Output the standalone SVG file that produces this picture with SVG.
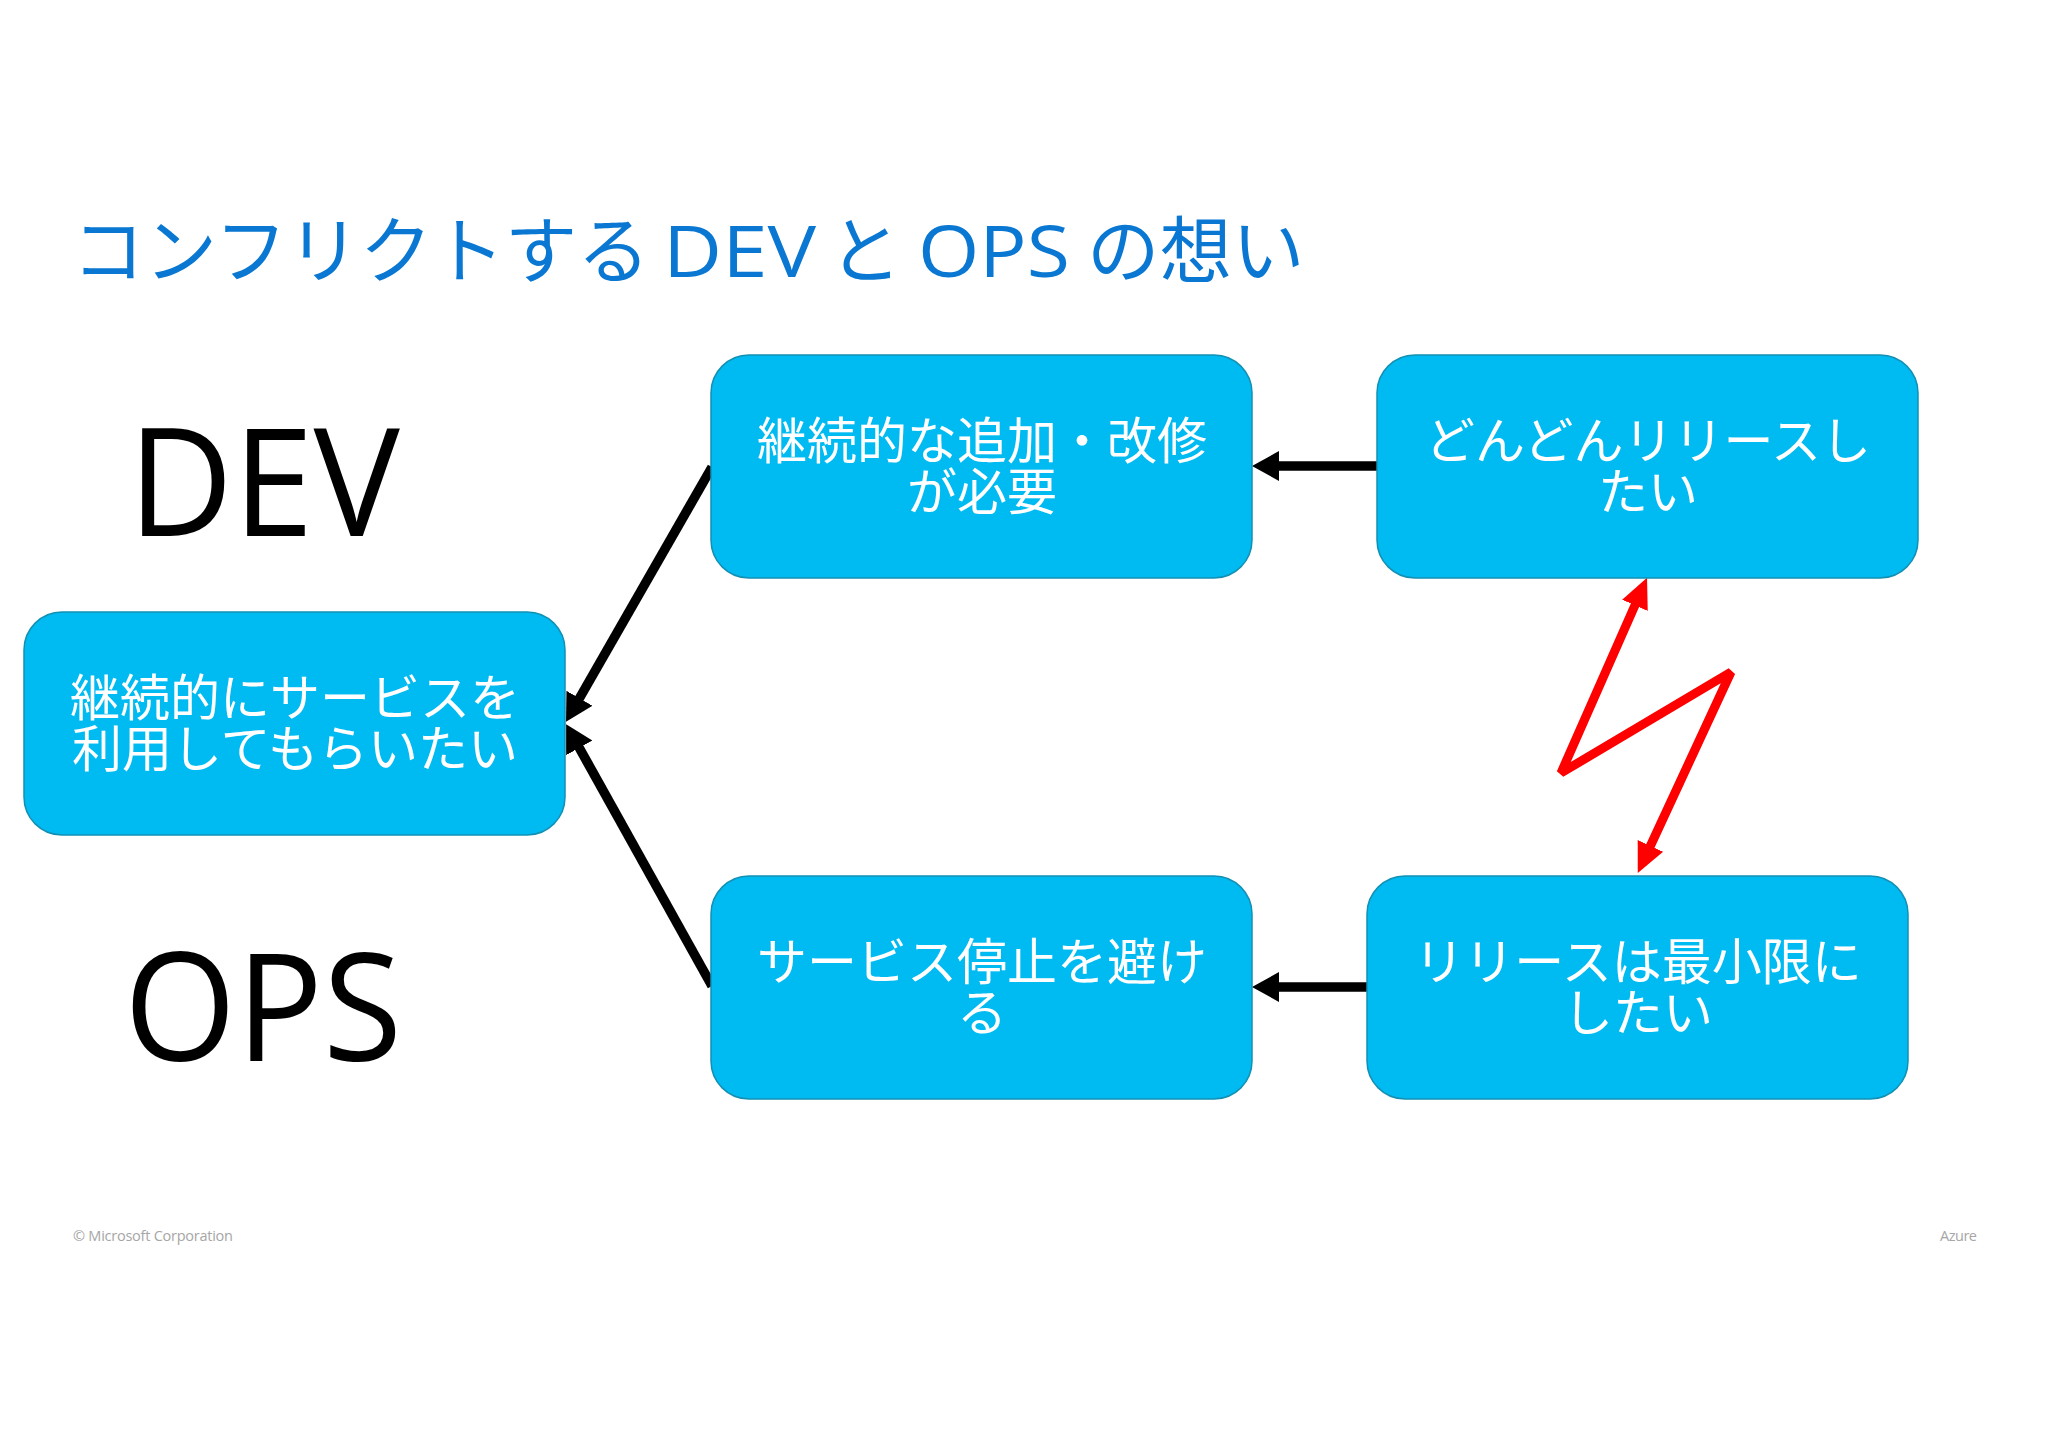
<svg xmlns="http://www.w3.org/2000/svg" width="2048" height="1448" viewBox="0 0 2048 1448">
<style>
text{font-family:"Open Sans","Noto Sans CJK JP",sans-serif}
.jp{font-family:"Noto Sans CJK JP",sans-serif;font-size:50px;fill:#fff;text-anchor:middle;font-weight:400}
.box{fill:#00BAF2;stroke:#1290B4;stroke-width:1.5}
.big{font-size:150px;fill:#000}
.foot{font-size:14.5px;fill:#a6a6a6}
.k{fill:none;stroke:#000;stroke-width:9.5;marker-end:url(#ka)}
.r{fill:none;stroke:#f00;stroke-width:9;stroke-linejoin:bevel;marker-start:url(#ra);marker-end:url(#ra)}
.lat{font-size:72px}
</style>
<defs>
<marker id="ka" markerUnits="userSpaceOnUse" markerWidth="28" markerHeight="32" refX="17" refY="16" orient="auto"><path d="M0,1L27,16L0,31z" fill="#000"/></marker>
<marker id="ra" markerUnits="userSpaceOnUse" markerWidth="30" markerHeight="30" refX="20" refY="15" orient="auto-start-reverse"><path d="M0,1L30,15L0,29z" fill="#f00"/></marker>
</defs>
<rect width="2048" height="1448" fill="#fff"/>
<text id="title" y="277" font-size="72.5" fill="#0A78D2"><tspan x="72">コンフリクトする</tspan><tspan class="lat" x="663" textLength="153" lengthAdjust="spacingAndGlyphs">DEV</tspan><tspan x="829">と</tspan><tspan class="lat" x="918" textLength="152" lengthAdjust="spacingAndGlyphs">OPS</tspan><tspan x="1087">の想い</tspan></text>
<text id="dev" class="big" x="128" y="536" textLength="272" lengthAdjust="spacingAndGlyphs">DEV</text>
<text id="ops" class="big" x="124" y="1061" textLength="278" lengthAdjust="spacingAndGlyphs">OPS</text>
<g id="connectors">
<path class="k" d="M1377,466H1262"/>
<path class="k" d="M1367,987H1262"/>
<path class="k" d="M712,467L571,713"/>
<path class="k" d="M712,986L571,733"/>
<path class="r" d="M1643,587L1561,773L1731,672L1642,864"/>
</g>
<g id="n-left"><rect class="box" x="24" y="612" width="541" height="223" rx="38"/><text class="jp" x="295" y="716">継続的にサービスを</text><text class="jp" x="295" y="767">利用してもらいたい</text></g>
<g id="n-topmid"><rect class="box" x="711" y="355" width="541" height="223" rx="38"/><text class="jp" x="982" y="459">継続的な追加・改修</text><text class="jp" x="982" y="510">が必要</text></g>
<g id="n-topright"><rect class="box" x="1377" y="355" width="541" height="223" rx="38"/><text class="jp" x="1648" y="459">どんどんリリースし</text><text class="jp" x="1648" y="510">たい</text></g>
<g id="n-botmid"><rect class="box" x="711" y="876" width="541" height="223" rx="38"/><text class="jp" x="982" y="980">サービス停止を避け</text><text class="jp" x="982" y="1031">る</text></g>
<g id="n-botright"><rect class="box" x="1367" y="876" width="541" height="223" rx="38"/><text class="jp" x="1638" y="980">リリースは最小限に</text><text class="jp" x="1638" y="1031">したい</text></g>
<text class="foot" x="73" y="1241" textLength="160">© Microsoft Corporation</text>
<text class="foot" x="1940" y="1241" textLength="37">Azure</text>
</svg>
